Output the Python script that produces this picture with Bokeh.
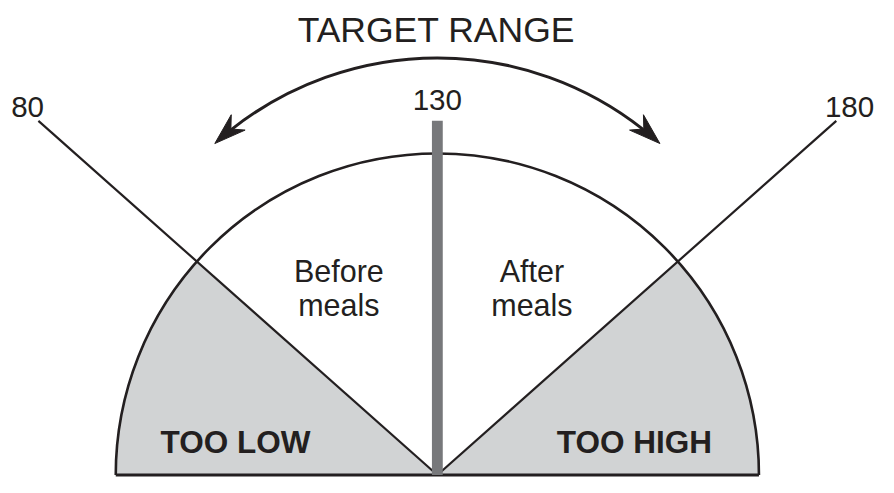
import numpy as np
from bokeh.plotting import figure
from bokeh.models import Range1d
from bokeh.core.properties import value
from bokeh.embed import file_html
from bokeh.resources import INLINE

# ---- data ----
threshold_values = [80, 130, 180]
threshold_labels = ["80", "130", "180"]
zone_labels = ["TOO LOW", "TOO HIGH"]
meal_line1 = ["Before", "After"]
meal_line2 = ["meals", "meals"]
title_text = "TARGET RANGE"

# ---- scale: glucose value -> gauge angle (deg) ----
def val_to_angle(v):
    return 90.0 - (v - 130.0) * 48.4 / 50.0

s = 0.985
R = 326.5          # gauge radius
L = 541.6          # threshold line length
FONT = value("Liberation Sans")
INK = "#231f20"

p = figure(width=878, height=477, output_backend="svg", toolbar_location=None,
           x_range=Range1d(-443.5, -443.5 + 878 / s),
           y_range=Range1d(-2.5, -2.5 + 477 / s),
           x_axis_location=None, y_axis_location=None, min_border=0)
p.grid.visible = False
p.outline_line_color = None
p.background_fill_color = "white"
p.border_fill_color = "white"

ang = [np.deg2rad(val_to_angle(v)) for v in threshold_values]
a_low, a_mid, a_high = ang

# grey zones
p.wedge(x=[0, 0], y=[0, 0], radius=R, start_angle=[a_low, 0.0], end_angle=[np.pi, a_high],
        fill_color="#d1d3d4", line_color=None)

# gauge outline
p.arc(x=0, y=0, radius=R, start_angle=0, end_angle=np.pi, line_color=INK, line_width=2.6)
p.segment(x0=[-R], y0=[0], x1=[R], y1=[0], line_color=INK, line_width=3)

# threshold lines (80, 180)
p.segment(x0=[0, 0], y0=[0, 0],
          x1=[L * np.cos(a_low), L * np.cos(a_high)],
          y1=[L * np.sin(a_low), L * np.sin(a_high)],
          line_color=INK, line_width=2.2)

# 130 bar
p.quad(left=[-5.5], right=[5.5], bottom=[0], top=[359.8], fill_color="#77787b", line_color=None)

# target range arrow arc
cy = 86.5
Ra = 337.0
tip_off = np.deg2rad(42.1)
p.arc(x=0, y=cy, radius=Ra, start_angle=np.pi / 2 - tip_off + np.deg2rad(3.8),
      end_angle=np.pi / 2 + tip_off - np.deg2rad(3.8), line_color=INK, line_width=3)

xs, ys = [], []
for th, sign in [(np.pi / 2 + tip_off, 1), (np.pi / 2 - tip_off, -1)]:
    T = np.array([Ra * np.cos(th), cy + Ra * np.sin(th)])
    d = sign * np.array([-np.sin(th), np.cos(th)])
    b = -d
    n = np.array([-d[1], d[0]])
    pts = [T, T + 32 * b + 10.5 * n, T + 22 * b, T + 32 * b - 10.5 * n]
    xs.append([q[0] for q in pts])
    ys.append([q[1] for q in pts])
p.patches(xs=xs, ys=ys, fill_color=INK, line_color=INK, line_width=1)

# texts
p.text(x=[-1], y=[451.5], text=[title_text], text_font=FONT, text_font_size=f"{36*s:.1f}px",
       text_align="center", text_baseline="alphabetic", text_color=INK)
p.text(x=[-416, 0, 418.5], y=[373.8, 380.5, 373.8], text=threshold_labels, text_font=FONT,
       text_font_size=f"{30*s:.1f}px", text_align="center", text_baseline="alphabetic",
       text_color=INK)
p.text(x=[-100, 96], y=[207.5, 207.5], text=meal_line1, text_font=FONT,
       text_font_size=f"{31*s:.1f}px", text_align="center", text_baseline="alphabetic",
       text_color=INK)
p.text(x=[-100, 96], y=[172.5, 172.5], text=meal_line2, text_font=FONT,
       text_font_size=f"{31*s:.1f}px", text_align="center", text_baseline="alphabetic",
       text_color=INK)
p.text(x=[-205, 200], y=[33.5, 33.5], text=zone_labels, text_font=FONT,
       text_font_size=f"{32*s:.1f}px", text_font_style="bold", text_align="center",
       text_baseline="alphabetic", text_color=INK)

open("out.html", "w").write(file_html(p, INLINE))
